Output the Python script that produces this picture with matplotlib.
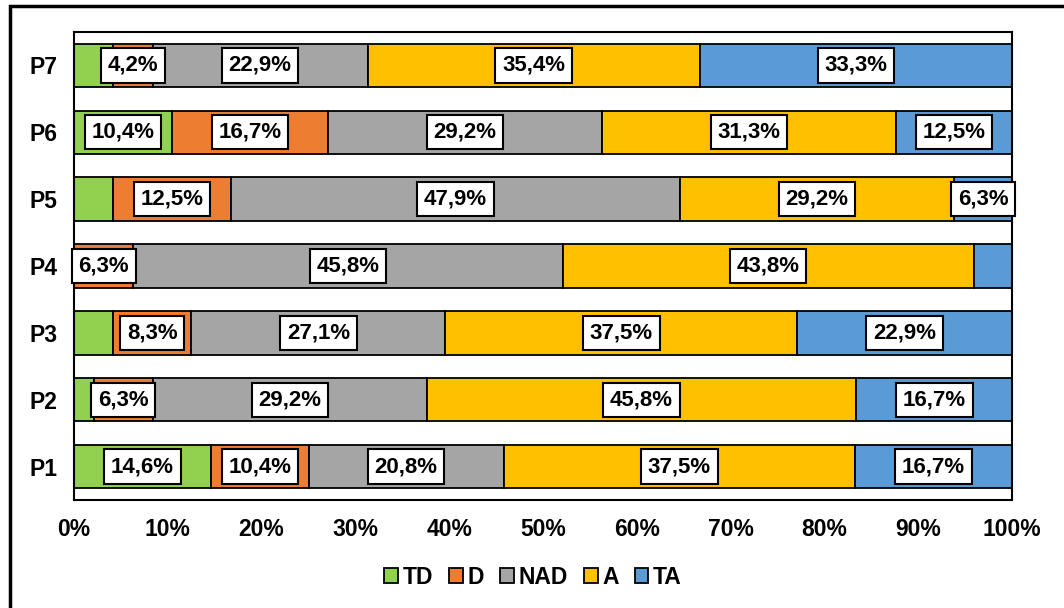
import matplotlib
matplotlib.use("Agg")
import matplotlib.pyplot as plt
from matplotlib.patches import Rectangle
import numpy as np

plt.rcParams['font.family'] = ['Liberation Sans', 'DejaVu Sans']

categories = ["P1", "P2", "P3", "P4", "P5", "P6", "P7"]
series_names = ["TD", "D", "NAD", "A", "TA"]
TD = [14.6, 2.1, 4.2, 0.0, 4.2, 10.4, 4.2]
D = [10.4, 6.3, 8.3, 6.3, 12.5, 16.7, 4.2]
NAD = [20.8, 29.2, 27.1, 45.8, 47.9, 29.2, 22.9]
A = [37.5, 45.8, 37.5, 43.8, 29.2, 31.3, 35.4]
TA = [16.7, 16.7, 22.9, 4.2, 6.3, 12.5, 33.3]
# which labels are shown (per series, per category)
show_TD = [True, False, False, False, False, True, False]
show_D = [True, True, True, True, True, True, True]
show_NAD = [True, True, True, True, True, True, True]
show_A = [True, True, True, True, True, True, True]
show_TA = [True, True, True, False, True, True, True]
colors = ["#92D050", "#ED7D31", "#A5A5A5", "#FFC000", "#5B9BD5"]
xticks = [0, 10, 20, 30, 40, 50, 60, 70, 80, 90, 100]

data = [TD, D, NAD, A, TA]
shows = [show_TD, show_D, show_NAD, show_A, show_TA]

fig = plt.figure(figsize=(10.64, 6.08), dpi=100)
W, H = 1064, 608
ax = fig.add_axes([74 / W, 1 - 500 / H, (1012 - 74) / W, (500 - 32) / H])

y = np.arange(len(categories))
left = np.zeros(len(categories))
for name, vals, col, show in zip(series_names, data, colors, shows):
    vals = np.array(vals)
    ax.barh(y, vals, left=left, height=0.65, color=col,
            edgecolor="black", linewidth=1.3, label=name)
    for i, (v, s) in enumerate(zip(vals, show)):
        if s and v > 0:
            ax.text(left[i] + v / 2, y[i], f"{v:.1f}%".replace(".", ","),
                    ha="center", va="center", fontsize=16, fontweight="bold",
                    bbox=dict(boxstyle="square,pad=0.3", facecolor="white",
                              edgecolor="black", linewidth=1.5))
    left += vals

ax.set_xlim(0, 100)
ax.set_ylim(-0.5, len(categories) - 0.5)
ax.set_yticks(y)
ax.set_yticklabels(categories, fontsize=16.5, fontweight="bold")
ax.set_xticks(xticks)
ax.set_xticklabels([f"{t}%" for t in xticks], fontsize=16.5, fontweight="bold")
ax.tick_params(axis="y", length=0, pad=12)
ax.tick_params(axis="x", length=0, pad=13)
for sp in ax.spines.values():
    sp.set_linewidth(1.5)
    sp.set_color("black")

leg = fig.legend(loc="center", bbox_to_anchor=(533 / W, 1 - 577 / H), ncol=5,
                 frameon=False, prop=dict(size=16.5, weight="bold"),
                 handlelength=0.6, handleheight=0.6, handletextpad=0.2,
                 columnspacing=0.7)

fig.patches.append(Rectangle((10 / W, -0.1), 1.2, 1 - 6 / H + 0.1,
                             transform=fig.transFigure, fill=False,
                             edgecolor="black", linewidth=2.5))

fig.savefig("out.png", dpi=100)
